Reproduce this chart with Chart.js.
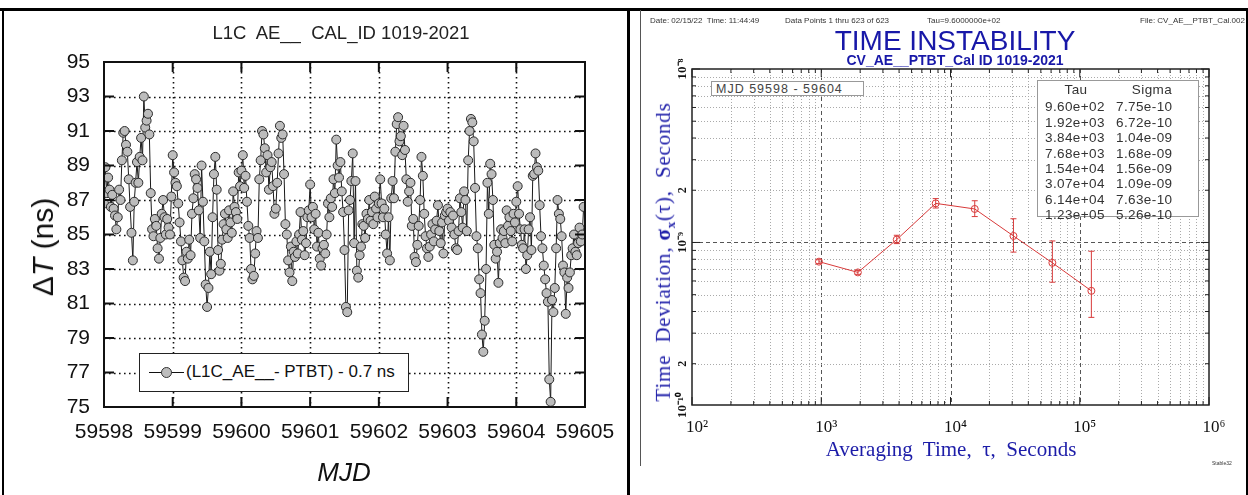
<!DOCTYPE html>
<html><head><meta charset="utf-8">
<script src="https://cdn.jsdelivr.net/npm/chart.js@4.4.1/dist/chart.umd.min.js"></script>
<style>
html,body{margin:0;padding:0;background:#fff;}
#wrap{position:relative;width:1248px;height:495px;overflow:hidden;background:#fff;font-family:"Liberation Sans",Arial,sans-serif;}
.abs{position:absolute;white-space:nowrap;}
canvas{position:absolute;}
</style></head><body>
<div id="wrap">
  <canvas id="left" width="628" height="495" style="left:0;top:0"></canvas>
  <canvas id="right" width="618" height="495" style="left:630px;top:0"></canvas>
  <div class="abs" style="left:0;top:8px;width:1248px;height:3px;background:#000"></div>
  <div class="abs" style="left:2px;top:8px;width:2px;height:487px;background:#000"></div>
  <div class="abs" style="left:627px;top:8px;width:3px;height:487px;background:#000"></div>
  <div class="abs" style="left:1246px;top:8px;width:2px;height:487px;background:#000"></div>
  <div class="abs" style="left:640px;top:10px;width:1px;height:456px;background:#555"></div>
  <div class="abs" id="ltitle" style="left:341px;top:33px;transform:translate(-50%,-50%);font-size:18.5px;color:#222">L1C&nbsp; AE__&nbsp; CAL_ID 1019-2021</div>
  <div class="abs" style="left:43px;top:247px;transform:translate(-50%,-50%) rotate(-90deg);font-size:30px;color:#111">Δ<i>T</i> (ns)</div>
  <div class="abs" style="left:344px;top:472px;transform:translate(-50%,-50%);font-size:26px;font-style:italic;color:#111">MJD</div>
  <div class="abs" style="left:139px;top:353px;width:268px;height:37px;border:1.5px solid #222;background:#fff">
    <div class="abs" style="left:9px;top:18px;width:35px;height:0;border-top:1.5px solid #111"></div>
    <div class="abs" style="left:21px;top:13px;width:9px;height:9px;border-radius:50%;background:#bdbdbd;border:1px solid #333"></div>
    <div class="abs" style="left:46px;top:8px;font-size:17px;color:#111">(L1C_AE__- PTBT) - 0.7 ns</div>
  </div>
  <div class="abs" style="left:650px;top:16px;font-size:8px;color:#333">Date: 02/15/22&nbsp; Time: 11:44:49</div>
  <div class="abs" style="left:785px;top:16px;font-size:8px;color:#333">Data Points 1 thru 623 of 623</div>
  <div class="abs" style="left:927px;top:16px;font-size:8px;color:#333">Tau=9.6000000e+02</div>
  <div class="abs" style="left:1140px;top:16px;font-size:8px;color:#333">File: CV_AE__PTBT_Cal.002</div>
  <div class="abs" style="left:955px;top:41px;transform:translate(-50%,-50%);font-size:28px;color:#1818a8">TIME INSTABILITY</div>
  <div class="abs" style="left:955px;top:60px;transform:translate(-50%,-50%);font-size:14px;font-weight:bold;color:#1818a8">CV_AE__PTBT_Cal ID 1019-2021</div>
  <div class="abs" style="left:665px;top:252px;transform:translate(-50%,-50%) rotate(-90deg);font-family:'Liberation Serif','Times New Roman',serif;font-size:21px;letter-spacing:0.8px;color:#1c1ca8">Time&nbsp; Deviation, <span style="font-weight:bold">σ<sub style="font-size:13px">x</sub></span>(τ),&nbsp; Seconds</div>
  <div class="abs" style="left:951px;top:449px;transform:translate(-50%,-50%);font-family:'Liberation Serif','Times New Roman',serif;font-size:21px;color:#1c1ca8">Averaging&nbsp; Time,&nbsp; τ,&nbsp; Seconds</div>
  <div class="abs" style="left:1212px;top:460px;font-size:5px;color:#333">Stable32</div>
  <div class="abs" style="left:711px;top:81px;width:153px;height:15px;border:1.5px solid #999;background:#fff;font-size:12.5px;letter-spacing:1px;color:#444;line-height:15px;padding-left:4px;box-sizing:border-box;">MJD 59598 - 59604</div>
  <div class="abs" id="tbl" style="left:1037px;top:80px;width:162px;height:137px;border:1.5px solid #999;background:#fff;box-sizing:border-box;font-size:13.5px;letter-spacing:0.4px;color:#333;line-height:15.4px;"></div>
</div>
<script>
const mjdStart = 59598.0;
const mjdStep = 0.02;
const deltaT = [
 86.8,88.9,87.4,88.3,87.6,86.6,87.3,86.5,86.1,85.3,86.0,87.6,87.0,89.3,90.9,91.0,90.2,89.8,88.2,86.6,
 85.1,83.5,86.9,88.0,89.2,88.0,89.5,90.6,89.3,93.0,91.2,91.6,92.0,90.8,87.4,85.3,84.9,85.9,85.5,84.2,
 83.6,84.8,86.2,87.0,86.0,85.0,85.9,85.4,85.0,87.2,
 89.6,88.6,88.0,87.8,86.8,85.7,84.6,83.5,82.5,82.3,84.0,83.6,84.7,83.8,86.2,87.1,88.5,88.2,87.7,86.4,
 84.8,89.0,86.9,84.6,82.1,80.8,81.9,84.0,82.7,86.0,88.5,89.5,87.6,84.1,82.9,83.3,84.7,85.6,86.2,85.3,
 84.8,86.4,85.7,85.1,87.5,86.6,86.3,85.9,88.6,87.8,
 88.7,89.6,87.7,88.4,86.9,85.5,84.8,83.0,82.4,82.6,83.9,85.2,84.8,88.2,89.3,91.0,90.8,90.0,88.6,89.6,
 87.6,88.9,89.2,87.8,86.2,86.5,88.0,89.7,91.3,90.6,90.8,88.5,85.6,85.0,83.5,82.8,84.3,82.3,84.0,83.7,
 84.6,83.9,85.0,86.3,84.7,85.2,83.8,84.5,86.0,86.4,
 87.9,86.0,86.6,85.3,86.2,84.3,85.1,83.6,83.2,84.2,84.4,83.9,85.0,86.8,86.0,87.1,86.6,88.2,87.4,90.5,
 89.0,88.3,89.2,87.5,86.3,84.1,80.8,80.5,86.4,87.0,88.1,89.7,84.5,88.1,82.9,82.5,83.8,84.3,85.6,85.5,
 84.8,86.2,85.9,87.0,85.8,86.3,85.6,87.2,86.5,86.0,
 86.8,88.2,86.8,86.0,86.5,85.0,83.9,86.0,83.5,87.1,88.1,87.1,89.8,91.4,91.8,90.4,90.7,89.6,91.3,89.9,
 88.2,86.9,87.5,88.0,85.5,85.9,83.7,83.4,84.4,85.5,87.0,89.5,88.4,86.2,84.9,84.2,83.7,84.3,85.0,85.6,
 84.6,85.3,85.8,86.7,85.2,84.5,85.7,83.9,86.1,86.3,
 86.5,85.8,86.3,85.4,86.1,85.0,84.2,84.1,85.2,87.1,86.3,85.4,87.5,87.0,85.2,89.3,91.0,91.7,91.5,90.4,
 87.7,84.9,84.2,82.4,81.6,79.2,78.2,80.0,83.0,88.0,86.2,89.1,88.5,87.0,84.4,83.6,84.0,82.2,84.5,85.3,
 84.8,85.2,84.5,86.4,85.5,86.0,85.2,84.6,86.2,85.7,
 86.9,87.8,86.2,85.3,84.4,84.2,85.3,83.0,83.8,85.3,86.0,84.1,88.4,88.5,89.7,88.9,88.7,86.7,84.9,84.2,
 83.2,82.4,81.6,81.1,76.6,75.3,81.2,80.5,81.9,84.2,87.0,86.2,85.9,84.9,83.2,82.8,80.4,82.5,81.9,82.8,
 83.8,84.2,85.0,84.0,83.8,84.5,85.4,84.6,85.0,86.6
];
const leftXTicks = [59598,59599,59600,59601,59602,59603,59604,59605];
const leftYTicks = [75,77,79,81,83,85,87,89,91,93,95];

const tau   = [960, 1920, 3840, 7680, 15400, 30700, 61400, 123000];
const tauLabels = ["9.60e+02","1.92e+03","3.84e+03","7.68e+03","1.54e+04","3.07e+04","6.14e+04","1.23e+05"];
const sigma = [7.75e-10, 6.72e-10, 1.04e-9, 1.68e-9, 1.56e-9, 1.09e-9, 7.63e-10, 5.26e-10];
const sigmaLabels = ["7.75e-10","6.72e-10","1.04e-09","1.68e-09","1.56e-09","1.09e-09","7.63e-10","5.26e-10"];
const sigmaLo = [7.55e-10, 6.55e-10, 0.985e-9, 1.58e-9, 1.41e-9, 0.88e-9, 0.59e-9, 0.37e-9];
const sigmaHi = [7.95e-10, 6.90e-10, 1.10e-9, 1.79e-9, 1.74e-9, 1.37e-9, 1.02e-9, 0.89e-9];
const rightXTickLabels = {100:"10²",1000:"10³",10000:"10⁴",100000:"10⁵",1000000:"10⁶"};
const rightYMin = 1.156e-10, rightYMax = 1e-8;

(function(){
  let h = '<div style="display:flex;padding:1px 0 2px 0"><span style="width:76px;text-align:center">Tau</span><span style="width:76px;text-align:center">Sigma</span></div>';
  for (let i=0;i<tau.length;i++) h += '<div style="display:flex;"><span style="width:78px;padding-left:7px;box-sizing:border-box">'+tauLabels[i]+'</span><span>'+sigmaLabels[i]+'</span></div>';
  document.getElementById('tbl').innerHTML = h;
})();

const leftPts = deltaT.map((v,i)=>({x: mjdStart + i*mjdStep, y: v}));
const leftFrame = {
  id:'leftFrame',
  beforeDatasetsDraw(chart){
    const {ctx, chartArea:a, scales:{x,y}} = chart;
    ctx.save();
    ctx.strokeStyle='#111'; ctx.lineWidth=1.6; ctx.setLineDash([1.6,3.4]);
    leftXTicks.slice(1,-1).forEach(t=>{const px=Math.round(x.getPixelForValue(t))+0.5;ctx.beginPath();ctx.moveTo(px,a.top);ctx.lineTo(px,a.bottom);ctx.stroke();});
    leftYTicks.slice(1,-1).forEach(t=>{const py=Math.round(y.getPixelForValue(t))+0.5;ctx.beginPath();ctx.moveTo(a.left,py);ctx.lineTo(a.right,py);ctx.stroke();});
    ctx.restore();
  },
  afterDatasetsDraw(chart){
    const {ctx, chartArea:a, scales:{x,y}} = chart;
    ctx.save();
    ctx.strokeStyle='#111'; ctx.lineWidth=2;
    ctx.strokeRect(a.left,a.top,a.right-a.left,a.bottom-a.top);
    const L=10;
    leftXTicks.forEach(t=>{const px=x.getPixelForValue(t);ctx.beginPath();ctx.moveTo(px,a.bottom);ctx.lineTo(px,a.bottom-L);ctx.moveTo(px,a.top);ctx.lineTo(px,a.top+L);ctx.stroke();});
    leftYTicks.forEach(t=>{const py=y.getPixelForValue(t);ctx.beginPath();ctx.moveTo(a.left,py);ctx.lineTo(a.left+L,py);ctx.moveTo(a.right,py);ctx.lineTo(a.right-L,py);ctx.stroke();});
    ctx.restore();
  }
};
new Chart(document.getElementById('left'), {
  type:'scatter',
  data:{datasets:[{label:'(L1C_AE__- PTBT) - 0.7 ns', data:leftPts, showLine:true,
    borderColor:'#1a1a1a', borderWidth:1, pointRadius:4.5, pointBorderWidth:1,
    pointBackgroundColor:'#bcbcbc', pointBorderColor:'#2a2a2a', tension:0}]},
  options:{responsive:false, animation:false, events:[],
    layout:{padding:{left:0,right:43,top:62,bottom:0}},
    plugins:{legend:{display:false}, tooltip:{enabled:false}},
    scales:{
      x:{type:'linear', min:59598, max:59605,
        afterBuildTicks:(s)=>{s.ticks=leftXTicks.map(v=>({value:v}));},
        afterFit:(s)=>{s.height=88;},
        grid:{display:false, drawTicks:false}, border:{display:false},
        ticks:{font:{family:'Liberation Sans', size:21}, color:'#111', padding:13, maxRotation:0, autoSkip:false, callback:(v)=>String(v)}},
      y:{type:'linear', min:75, max:95,
        afterBuildTicks:(s)=>{s.ticks=leftYTicks.map(v=>({value:v}));},
        afterFit:(s)=>{s.width=104;},
        grid:{display:false, drawTicks:false}, border:{display:false},
        ticks:{font:{family:'Liberation Sans', size:21}, color:'#111', padding:14, autoSkip:false, callback:(v)=>String(v)}}
    }
  },
  plugins:[leftFrame]
});

const red = '#d83a3a';
const rightDeco = {
  id:'rightDeco',
  beforeDatasetsDraw(chart){
    const {ctx, chartArea:a, scales:{x,y}} = chart;
    ctx.save();
    for (let d=2; d<=5; d++) for (let m=1; m<=9; m++){
      const v=m*Math.pow(10,d); if (v<=100) continue;
      const px=Math.round(x.getPixelForValue(v))+0.5;
      ctx.strokeStyle = m===1 ? '#555' : '#aaa'; ctx.lineWidth=1;
      ctx.setLineDash(m===1?[4,3]:[1,2]);
      ctx.beginPath();ctx.moveTo(px,a.top);ctx.lineTo(px,a.bottom);ctx.stroke();
    }
    for (let d=-10; d<=-9; d++) for (let m=1; m<=9; m++){
      const v=m*Math.pow(10,d); if (v<=rightYMin*1.01 || v>=rightYMax*0.99) continue;
      const py=Math.round(y.getPixelForValue(v))+0.5;
      ctx.strokeStyle = m===1 ? '#555' : '#aaa'; ctx.lineWidth=1;
      ctx.setLineDash(m===1?[4,3]:[1,2]);
      ctx.beginPath();ctx.moveTo(a.left,py);ctx.lineTo(a.right,py);ctx.stroke();
    }
    ctx.restore();
  },
  afterDatasetsDraw(chart){
    const {ctx, chartArea:a, scales:{x,y}} = chart;
    ctx.save();
    ctx.strokeStyle=red; ctx.lineWidth=1;
    for (let i=0;i<tau.length;i++){
      const px=x.getPixelForValue(tau[i]), y1=y.getPixelForValue(sigmaLo[i]), y2=y.getPixelForValue(sigmaHi[i]);
      ctx.beginPath();ctx.moveTo(px,y1);ctx.lineTo(px,y2);
      ctx.moveTo(px-3,y1);ctx.lineTo(px+3,y1);ctx.moveTo(px-3,y2);ctx.lineTo(px+3,y2);ctx.stroke();
    }
    ctx.strokeStyle='#222'; ctx.lineWidth=1.5;
    ctx.strokeRect(a.left,a.top,a.right-a.left,a.bottom-a.top);
    ctx.lineWidth=1;
    for (let d=2; d<=6; d++) for (let m=1; m<=9; m++){
      const v=m*Math.pow(10,d); if (v>1e6) break;
      const px=x.getPixelForValue(v), L=m===1?8:4;
      ctx.beginPath();ctx.moveTo(px,a.bottom);ctx.lineTo(px,a.bottom-L);ctx.moveTo(px,a.top);ctx.lineTo(px,a.top+L);ctx.stroke();
    }
    for (let d=-10; d<=-8; d++) for (let m=1; m<=9; m++){
      const v=m*Math.pow(10,d); if (v<rightYMin || v>rightYMax*1.001) continue;
      const py=y.getPixelForValue(v), L=m===1?8:4;
      ctx.beginPath();ctx.moveTo(a.left,py);ctx.lineTo(a.left+L,py);ctx.moveTo(a.right,py);ctx.lineTo(a.right-L,py);ctx.stroke();
    }
    ctx.fillStyle='#111'; ctx.textAlign='center'; ctx.textBaseline='alphabetic';
    const ylab=[[rightYMax,'10⁻⁸'],[2e-9,'2'],[1e-9,'10⁻⁹'],[2e-10,'2'],[rightYMin,'10⁻¹⁰']];
    ylab.forEach(([v,t])=>{
      const py=y.getPixelForValue(v);
      ctx.save(); ctx.translate(a.left-6, py); ctx.rotate(-Math.PI/2);
      ctx.font = (t==='2'?'bold 12px':'bold 13px')+' "Liberation Serif", serif';
      ctx.fillText(t,0,0); ctx.restore();
    });
    ctx.restore();
  }
};
new Chart(document.getElementById('right'), {
  type:'scatter',
  data:{datasets:[{label:'sigma', data:tau.map((t,i)=>({x:t,y:sigma[i]})), showLine:true,
    borderColor:red, borderWidth:1, pointRadius:3.5, pointBorderWidth:1,
    pointBackgroundColor:'rgba(255,255,255,0)', pointBorderColor:red, tension:0}]},
  options:{responsive:false, animation:false, events:[],
    layout:{padding:{left:0,right:39,top:69,bottom:0}},
    plugins:{legend:{display:false}, tooltip:{enabled:false}},
    scales:{
      x:{type:'logarithmic', min:100, max:1e6,
        afterBuildTicks:(s)=>{s.ticks=[100,1000,10000,100000,1000000].map(v=>({value:v}));},
        afterFit:(s)=>{s.height=90;},
        grid:{display:false, drawTicks:false}, border:{display:false},
        ticks:{font:{family:'Liberation Serif', size:17}, color:'#111', padding:12, labelOffset:5, maxRotation:0, autoSkip:false, callback:(v)=>rightXTickLabels[v]||''}},
      y:{type:'logarithmic', min:rightYMin, max:rightYMax,
        afterFit:(s)=>{s.width=62;},
        grid:{display:false, drawTicks:false}, border:{display:false},
        ticks:{display:false}}
    }
  },
  plugins:[rightDeco]
});
</script>
</body></html>
